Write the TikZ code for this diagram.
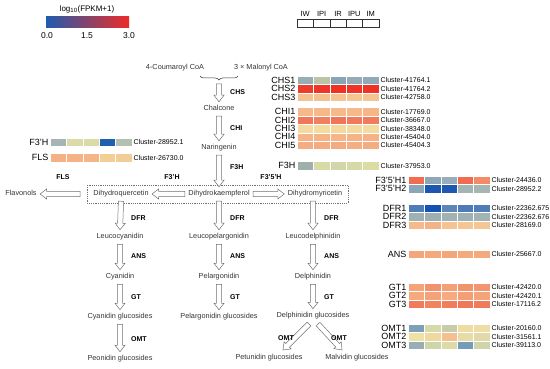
\documentclass[tikz,border=0pt]{standalone}
\usepackage{fontspec}
\setmainfont{Liberation Sans}
\usetikzlibrary{calc,positioning,decorations.pathreplacing}

\definecolor{PathGray}{HTML}{333333}
\definecolor{ArrowGray}{HTML}{707070}
\definecolor{MapBlue}{HTML}{1F5BAE}
\definecolor{MapPale}{HTML}{F0E6A6}
\definecolor{MapRed}{HTML}{EE2B27}

\newcommand{\cellw}{16.4}
\newcommand{\cellh}{8.4}

% one heatmap row: left x, top y, five colours
\newcommand{\heatrow}[3]{%
  \foreach \hex [count=\k from 0] in {#3}{%
    \edef\setcell{\noexpand\definecolor{cellfill}{HTML}{\hex}}\setcell
    \filldraw[heatcell] ({#1+\k*\cellw},#2) rectangle ++(\cellw,\cellh);
  }}
% row with gene name and cluster id
\newcommand{\generow}[6]{%
  \heatrow{#2}{#3}{#6}
  \node[gene,anchor=east] (g#1) at ({#2-1.5},{#3+\cellh/2}) {#4};
  \node[clus,anchor=west] (c#1) at ({#2+5*\cellw+1.5},{#3+\cellh/2}) {#5};}
% hollow block arrow from #1 to #2
\newcommand{\blockarrow}[2]{%
  \draw[blockarrow] ($(#1)!2.6pt!90:(#2)$) -- ($(#2)!6.5pt!(#1)!2.6pt!-90:(#1)$)
    -- ($(#2)!6.5pt!(#1)!5pt!-90:(#1)$) -- (#2)
    -- ($(#2)!6.5pt!(#1)!5pt!90:(#1)$) -- ($(#2)!6.5pt!(#1)!2.6pt!90:(#1)$)
    -- ($(#1)!2.6pt!-90:(#2)$) -- cycle;}

\begin{document}
\begin{tikzpicture}[x=1pt,y=-1pt,
  met/.style={font=\fontsize{7.3}{8}\selectfont,text=PathGray,inner sep=1.5pt,
    text height=5pt,text depth=1.5pt,outer xsep=2pt,outer ysep=2.5pt},
  enz/.style={font=\bfseries\fontsize{7}{8}\selectfont,inner sep=1pt},
  gene/.style={font=\fontsize{9}{9}\selectfont,inner sep=0pt},
  clus/.style={font=\fontsize{7}{8}\selectfont,inner sep=0pt},
  heatcell/.style={fill=cellfill,draw=white,line width=0.35pt},
  blockarrow/.style={draw=ArrowGray,fill=white,line width=0.5pt,line join=miter},
  dashbox/.style={draw=ArrowGray,dash pattern=on 1.2pt off 1pt,line width=0.5pt}]
\useasboundingbox (0,0) rectangle (550,369);

% legend
\node[font=\fontsize{8}{9}\selectfont] (legtitle) at (87,9) {log\textsubscript{10}(FPKM+1)};
\shade[left color=MapBlue,middle color=MapPale,right color=MapRed] (46,17) rectangle (129,28);
\node[font=\fontsize{8.5}{9}\selectfont] (leg0) at (47,36) {0.0};
\node[font=\fontsize{8.5}{9}\selectfont] (leg1) at (87,36) {1.5};
\node[font=\fontsize{8.5}{9}\selectfont] (leg3) at (129,36) {3.0};

% sample header
\foreach \s [count=\k from 0] in {IW,IPI,IR,IPU,IM}{
  \draw[draw=PathGray,line width=0.4pt] ({297+\k*\cellw},19) rectangle ++(\cellw,8.3);
  \node[clus,font=\fontsize{7.5}{8}\selectfont] (h\s) at ({297+(\k+0.5)*\cellw},14) {\s};
}

% pathway
\node[met] (coum) at (175,68) {4-Coumaroyl CoA};
\node[met] (malo) at (261,68) {3 × Malonyl CoA};
\draw[draw=PathGray,line width=0.5pt,decorate,decoration={brace,mirror,amplitude=4pt}] (200,76) -- (238,76);
\coordinate (bracetip) at (219,84);
\node[met] (chal) at (219,109) {Chalcone};
\node[met] (nar) at (219,148) {Naringenin};
\node[met] (dhk) at (219,194) {Dihydrokaempferol};
\node[met] (dhq) at (121,194) {Dihydroquercetin};
\node[met] (dhm) at (315,194) {Dihydromyricetin};
\node[met] (flav) at (21,194) {Flavonols};
\draw[dashbox] (87,185) rectangle (348,203);
\coordinate (flsfrom) at (80,194);
\node[met] (lcy) at (120,237) {Leucocyanidin};
\node[met] (lpe) at (219,237) {Leucopelargonidin};
\node[met] (lde) at (313,237) {Leucodelphinidin};
\node[met] (cya) at (120,277) {Cyanidin};
\node[met] (pel) at (219,277) {Pelargonidin};
\node[met] (del) at (313,277) {Delphinidin};
\node[met] (cyag) at (120,317) {Cyanidin glucosides};
\node[met] (pelg) at (219,317) {Pelargonidin glucosides};
\node[met] (delg) at (313,316) {Delphinidin glucosides};
\node[met] (peog) at (120,359) {Peonidin glucosides};
\node[met] (petg) at (269,358) {Petunidin glucosides};
\node[met] (malg) at (357,358) {Malvidin glucosides};
\coordinate (omtlfrom) at (309,324);
\coordinate (omtrfrom) at (318,324);
\coordinate (petin) at (283,350);
\coordinate (malin) at (342,350);

\blockarrow{bracetip}{chal.north}
\blockarrow{chal.south}{nar.north}
\blockarrow{nar.south}{dhk.north}
\blockarrow{dhk.west}{dhq.east}
\blockarrow{dhk.east}{dhm.west}
\blockarrow{flsfrom}{flav.east}
\blockarrow{dhq.south}{lcy.north}
\blockarrow{dhk.south}{lpe.north}
\blockarrow{dhm.south -| lde}{lde.north}
\blockarrow{lcy.south}{cya.north}
\blockarrow{lpe.south}{pel.north}
\blockarrow{lde.south}{del.north}
\blockarrow{cya.south}{cyag.north}
\blockarrow{pel.south}{pelg.north}
\blockarrow{del.south}{delg.north}
\blockarrow{cyag.south}{peog.north}
\blockarrow{omtlfrom}{petin}
\blockarrow{omtrfrom}{malin}

% enzyme labels
\node[enz,anchor=west] (echs) at (229,92) {CHS};
\node[enz,anchor=west] (echi) at (229,128) {CHI};
\node[enz,anchor=west] (ef3h) at (229,167) {F3H};
\node[enz] (efls) at (63,177) {FLS};
\node[enz] (efth) at (172,177) {F3'H};
\node[enz] (eftfh) at (271,177) {F3'5'H};
\foreach \col/\nm in {120/a,219/b,313/c}{
  \node[enz,anchor=west] (edfr\nm) at (\col+10,218) {DFR};
  \node[enz,anchor=west] (eans\nm) at (\col+10,256) {ANS};
}
\node[enz,anchor=west] (egta) at (130,297) {GT};
\node[enz,anchor=west] (egtb) at (229,297) {GT};
\node[enz,anchor=west] (egtc) at (323,297) {GT};
\node[enz,anchor=west] (eomta) at (130,339) {OMT};
\node[enz] (eomtl) at (286,338) {OMT};
\node[enz] (eomtr) at (339,338) {OMT};

% heatmaps, middle column
\generow{chsa}{297}{76}{CHS1}{Cluster-41764.1}{97AEB2,B9C5A6,88A5B8,95ACB6,92AAB7}
\generow{chsb}{297}{84.4}{CHS2}{Cluster-41764.2}{EC3D2C,EE3527,EE3124,EE3427,EE3326}
\generow{chsc}{297}{92.8}{CHS3}{Cluster-42758.0}{F5C28F,F5C090,F4C38F,F5C592,F5C493}
\generow{chia}{297}{107.5}{CHI1}{Cluster-17769.0}{F6BA8A,F5B889,F5BA8B,F5B98A,F5B788}
\generow{chib}{297}{115.9}{CHI2}{Cluster-36667.0}{F1775A,F27F5F,F07458,F07A5B,F17B5C}
\generow{chic}{297}{124.3}{CHI3}{Cluster-38348.0}{F4DAA0,F3DC9F,F3D99E,F3DB9F,F3DCA0}
\generow{chid}{297}{132.7}{CHI4}{Cluster-45404.0}{F5B487,F5B386,F5B588,F5B487,F5B286}
\generow{chie}{297}{141.1}{CHI5}{Cluster-45404.3}{F4AC80,F4AD81,F4AB80,F4AE81,F4AD80}
\generow{fth}{297}{161.5}{F3H}{Cluster-37953.0}{9FB0AC,D9DBA6,D2D6A8,D6D9A8,DCDCA5}

% heatmaps, left side
\generow{ftph}{50}{138}{F3'H}{Cluster-28952.1}{A6B5B3,DCDBA8,DADCA8,1F5FAF,B4C1B2}
\generow{fls}{50}{153.5}{FLS}{Cluster-26730.0}{F5B085,F5B286,F4B588,F3CF98,F3CD98}

% heatmaps, right column
\generow{ftfa}{408}{176}{F3'5'H1}{Cluster-24436.0}{F26D50,8EA7B7,97ADB7,F26B50,F38B67}
\generow{ftfb}{408}{184.4}{F3'5'H2}{Cluster-28952.2}{8AA6B8,1B56B0,1F58B1,A3B4B4,A7B6B2}
\generow{dfra}{408}{204}{DFR1}{Cluster-22362.675}{4F7DB8,1552B5,5C85B8,4D7BB8,507DB8}
\generow{dfrb}{408}{212.4}{DFR2}{Cluster-22362.676}{9FB1B2,9CB0B3,A0B2B3,9DB1B3,A1B3B2}
\generow{dfrc}{408}{220.8}{DFR3}{Cluster-28169.0}{F5BA8A,F4B287,F5C392,F5C594,F5C593}
\generow{ans}{408}{250}{ANS}{Cluster-25667.0}{F5A57A,F5A87C,F4A67B,F5AA7E,F5AA7E}
\generow{gta}{408}{283}{GT1}{Cluster-42420.0}{F5A47A,F3936D,F49F77,F29369,F39570}
\generow{gtb}{408}{291.4}{GT2}{Cluster-42420.1}{F5AA7E,F4A27A,F5AB7F,F49E77,F4A47A}
\generow{gtc}{408}{299.8}{GT3}{Cluster-17116.2}{F17A5C,F2835F,F17D5C,F07859,F07A5A}
\generow{omta}{408}{324}{OMT1}{Cluster-20160.0}{7D9FB8,D6D9A8,C7CDAA,EFDCA2,EEDDA4}
\generow{omtb}{408}{332.4}{OMT2}{Cluster-31561.1}{EFE0A5,F0D9A0,F5C090,E8DCA6,E3D9A8}
\generow{omtc}{408}{340.8}{OMT3}{Cluster-39113.0}{99ADB5,D0D4A9,DCDBA7,769BB9,CFD4AA}
\end{tikzpicture}
\end{document}
